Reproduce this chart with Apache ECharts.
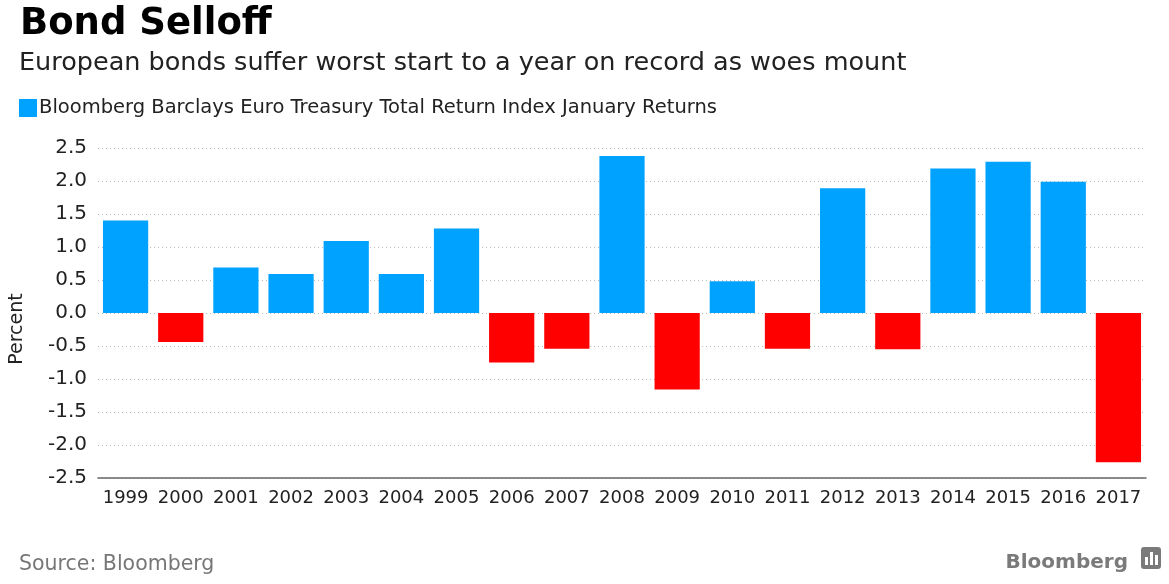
<!DOCTYPE html>
<html>
<head>
<meta charset="utf-8">
<script src="https://cdn.jsdelivr.net/npm/echarts@6/dist/echarts.min.js"></script>
<style>
  html, body { margin: 0; padding: 0; background: #fff; }
  #chart { width: 1169px; height: 584px; }
</style>
</head>
<body>
<div id="chart"></div>
<script>
// January returns, percent
const years = ['1999', '2000', '2001', '2002', '2003', '2004', '2005', '2006', '2007', '2008',
  '2009', '2010', '2011', '2012', '2013', '2014', '2015', '2016', '2017'];
const returns = [1.4, -0.44, 0.69, 0.59, 1.09, 0.59, 1.28, -0.75, -0.54, 2.38,
  -1.16, 0.48, -0.54, 1.89, -0.55, 2.19, 2.29, 1.99, -2.26];

const BLUE = '#00a2ff';
const RED = '#ff0000';
const FONT = 'DejaVu Sans';

const chart = echarts.init(document.getElementById('chart'));

chart.setOption({
  animation: false,
  textStyle: { fontFamily: FONT },
  title: [
    {
      text: 'Bond Selloff',
      left: 15, top: 1,
      textStyle: { fontFamily: FONT, fontWeight: 'bold', fontSize: 37, color: '#000' }
    },
    {
      text: 'European bonds suffer worst start to a year on record as woes mount',
      left: 14, top: 45,
      textStyle: { fontFamily: FONT, fontWeight: 'normal', fontSize: 25.5, color: '#222' }
    },
    {
      text: 'Source: Bloomberg',
      left: 14, top: 549,
      textStyle: { fontFamily: FONT, fontWeight: 'normal', fontSize: 20.5, color: '#777' }
    },
    {
      text: 'Bloomberg',
      right: 36, top: 548,
      textStyle: { fontFamily: FONT, fontWeight: 'bold', fontSize: 20, color: '#7a7a7a' }
    }
  ],
  legend: {
    left: 14, top: 93,
    itemWidth: 18, itemHeight: 18, itemGap: 6,
    icon: 'rect',
    textStyle: { fontFamily: FONT, fontSize: 19.5, color: '#222', padding: [0, 0, 0, -3] },
    data: ['Bloomberg Barclays Euro Treasury Total Return Index January Returns']
  },
  grid: { left: 98, right: 23, top: 148, bottom: 106 },
  xAxis: {
    type: 'category',
    data: years,
    axisLine: { onZero: false, lineStyle: { color: '#666', width: 1.5 } },
    axisTick: { alignWithLabel: true, length: 6, lineStyle: { color: '#666' } },
    axisLabel: { interval: 0, fontFamily: FONT, fontSize: 18, color: '#222', margin: 11 }
  },
  yAxis: {
    type: 'value',
    min: -2.5, max: 2.5, interval: 0.5,
    axisLine: { show: false },
    axisTick: { show: false },
    axisLabel: {
      fontFamily: FONT, fontSize: 20, color: '#222', margin: 11,
      formatter: v => v.toFixed(1)
    },
    splitLine: { lineStyle: { color: '#bbb', type: [1, 3], width: 1 } }
  },
  series: [{
    name: 'Bloomberg Barclays Euro Treasury Total Return Index January Returns',
    type: 'bar',
    barWidth: '82%',
    itemStyle: { color: BLUE },
    data: returns.map(v => ({ value: v, itemStyle: { color: v < 0 ? RED : BLUE } }))
  }],
  graphic: [
    {
      type: 'text',
      x: 8, y: 329,
      rotation: Math.PI / 2,
      style: {
        text: 'Percent', fontFamily: FONT, fontSize: 19, fill: '#222',
        textAlign: 'center', textVerticalAlign: 'top'
      }
    },
    {
      type: 'group',
      right: 8, top: 547,
      children: [
        { type: 'rect', shape: { x: 0, y: 0, width: 20, height: 22, r: 3 }, style: { fill: '#7a7a7a' } },
        { type: 'rect', shape: { x: 4, y: 10, width: 3, height: 8 }, style: { fill: '#fff' } },
        { type: 'rect', shape: { x: 9, y: 5, width: 3, height: 13 }, style: { fill: '#fff' } },
        { type: 'rect', shape: { x: 14, y: 8, width: 3, height: 10 }, style: { fill: '#fff' } }
      ]
    }
  ]
});
</script>
</body>
</html>
